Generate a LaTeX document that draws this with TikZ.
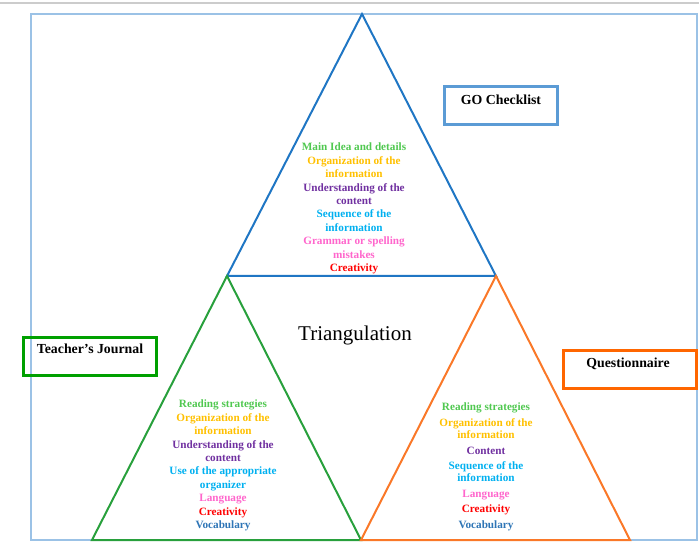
\documentclass[tikz,border=0pt]{standalone}
\usepackage{fontspec}
\setmainfont{Liberation Serif}
\definecolor{frameblue}{RGB}{155,194,230}
\definecolor{triblue}{RGB}{31,118,196}
\definecolor{trigreen}{RGB}{40,160,60}
\definecolor{triorange}{RGB}{250,120,40}
\definecolor{boxblue}{RGB}{91,155,213}
\definecolor{boxgreen}{RGB}{0,160,0}
\definecolor{boxorange}{RGB}{255,102,0}
\definecolor{tgreen}{RGB}{80,200,80}
\definecolor{tgold}{RGB}{255,192,0}
\definecolor{tpurple}{RGB}{112,48,160}
\definecolor{tcyan}{RGB}{0,176,240}
\definecolor{tpink}{RGB}{255,102,204}
\definecolor{tred}{RGB}{255,0,0}
\definecolor{tblue}{RGB}{46,117,182}
\begin{document}
\begin{tikzpicture}[x=1pt,y=-1pt,
  tri/.style={line width=2pt,line join=miter},
  labelbox/.style={draw,line width=3pt,minimum width=#1,minimum height=38pt,inner sep=0pt},
  boxlabel/.style={anchor=north,inner sep=0pt,font=\fontsize{13.8}{15}\selectfont\bfseries},
  itemtext/.style={align=center,inner sep=0pt,font=\fontsize{11.2}{13.4}\selectfont\bfseries}
]
\useasboundingbox (0,0) rectangle (699,548);
\draw[gray!40,line width=2pt] (0,3) -- (699,3);
\draw[frameblue,line width=1.5pt] (31,14) rectangle (697,540);
% triangles
\coordinate (A) at (362,14);
\coordinate (B) at (227,276);
\coordinate (C) at (496,276);
\coordinate (D) at (92,540);
\coordinate (E) at (361,540);
\coordinate (F) at (630,540);
\draw[tri,triblue] (A) -- (B) -- (C) -- cycle;
\draw[tri,trigreen] (B) -- (D) -- (E) -- cycle;
\draw[tri,triorange] (C) -- (E) -- (F) -- cycle;
% boxes
\node[labelbox=113pt,boxblue] (go) at (500.5,106) {};
\node[boxlabel] (gol) at (501,94.5) {GO Checklist};
\node[labelbox=133pt,boxgreen] (tj) at (89.5,356) {};
\node[boxlabel] (tjl) at (90,344) {Teacher’s Journal};
\node[labelbox=133pt,boxorange] (qu) at (629.5,369.5) {};
\node[boxlabel] (qul) at (628,357.5) {Questionnaire};
% center
\node[font=\fontsize{21}{24}\selectfont] (tri) at (355,335) {Triangulation};
% top list
\node[itemtext,anchor=north] (top) at (354,143) {%
\textcolor{tgreen}{Main Idea and details}\\
\textcolor{tgold}{Organization of the}\\
\textcolor{tgold}{information}\\
\textcolor{tpurple}{Understanding of the}\\
\textcolor{tpurple}{content}\\
\textcolor{tcyan}{Sequence of the}\\
\textcolor{tcyan}{information}\\
\textcolor{tpink}{Grammar or spelling}\\
\textcolor{tpink}{mistakes}\\
\textcolor{tred}{Creativity}};
% left list
\node[itemtext,anchor=north] (left) at (223,400) {%
\textcolor{tgreen}{Reading strategies}\\
\textcolor{tgold}{Organization of the}\\
\textcolor{tgold}{information}\\
\textcolor{tpurple}{Understanding of the}\\
\textcolor{tpurple}{content}\\
\textcolor{tcyan}{Use of the appropriate}\\
\textcolor{tcyan}{organizer}\\
\textcolor{tpink}{Language}\\
\textcolor{tred}{Creativity}\\
\textcolor{tblue}{Vocabulary}};
% right list
\node[itemtext,anchor=north] (right) at (486,403) {%
\textcolor{tgreen}{Reading strategies}\\[2pt]
\textcolor{tgold}{Organization of the}\\[-1pt]
\textcolor{tgold}{information}\\[2pt]
\textcolor{tpurple}{Content}\\[2pt]
\textcolor{tcyan}{Sequence of the}\\[-1pt]
\textcolor{tcyan}{information}\\[2pt]
\textcolor{tpink}{Language}\\[2pt]
\textcolor{tred}{Creativity}\\[2pt]
\textcolor{tblue}{Vocabulary}};
\end{tikzpicture}
\end{document}
